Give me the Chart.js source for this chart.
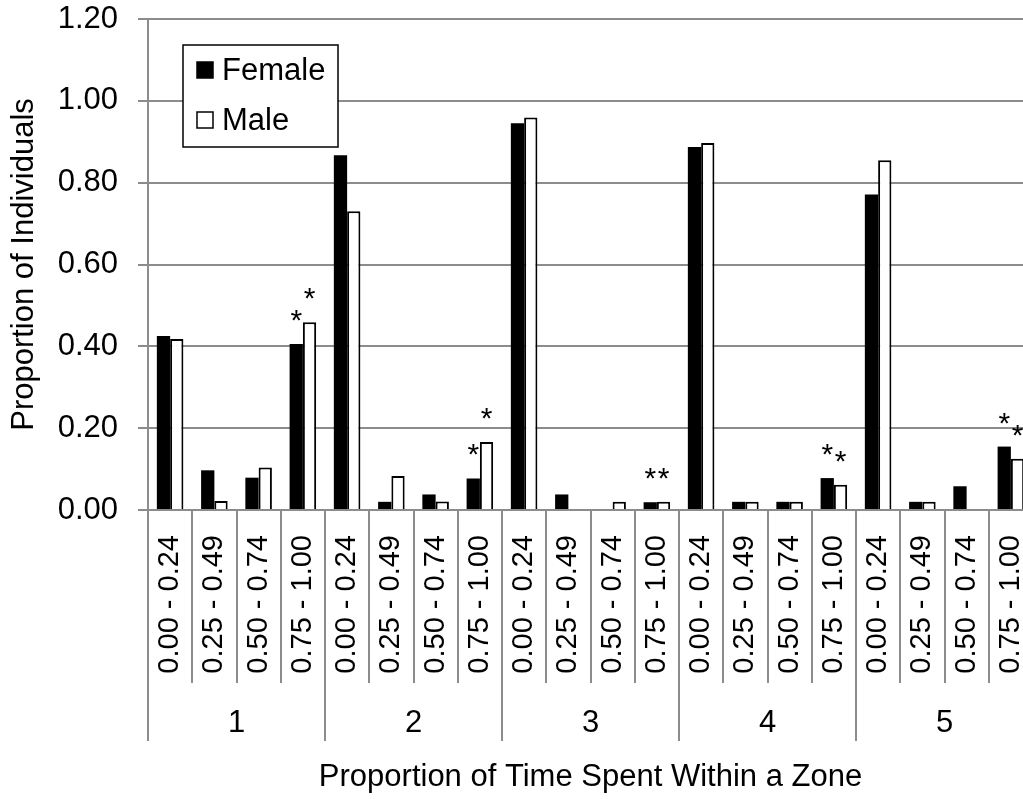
<!DOCTYPE html>
<html>
<head>
<meta charset="utf-8">
<script src="https://cdn.jsdelivr.net/npm/chart.js@4.4.1/dist/chart.umd.min.js"></script>
<style>
  html, body { margin: 0; padding: 0; background: #fff; overflow: hidden; }
  #wrap { width: 1040px; height: 799px; position: relative; }
</style>
</head>
<body>
<div id="wrap"><canvas id="chart"></canvas></div>
<script>
const rangeLabels = ["0.00 - 0.24", "0.25 - 0.49", "0.50 - 0.74", "0.75 - 1.00"];
const zoneLabels = ["1", "2", "3", "4", "5"];
const female = [0.425, 0.097, 0.079, 0.406, 0.867, 0.020, 0.038, 0.077, 0.945, 0.038, 0, 0.019, 0.887, 0.020, 0.020, 0.078, 0.771, 0.020, 0.058, 0.155];
const male = [0.418, 0.022, 0.104, 0.459, 0.730, 0.083, 0.021, 0.166, 0.959, 0, 0.020, 0.020, 0.897, 0.020, 0.020, 0.062, 0.855, 0.020, 0, 0.125];
const femaleStars = [0, 0, 0, 1, 0, 0, 0, 1, 0, 0, 0, 1, 0, 0, 0, 1, 0, 0, 0, 1];
const maleStars = [0, 0, 0, 1, 0, 0, 0, 1, 0, 0, 0, 1, 0, 0, 0, 1, 0, 0, 0, 1];

const labels = [];
zoneLabels.forEach(() => rangeLabels.forEach(r => labels.push(r)));

const FONT = "'Liberation Sans', Arial, sans-serif";
const GRID = "#8c8c8c";
Chart.defaults.font.family = FONT;
Chart.defaults.color = "#000";

const extras = {
    id: "extras",
    afterDatasetsDraw(chart) {
        const ctx = chart.ctx;
        const x = chart.scales.x;
        const area = chart.chartArea;
        ctx.save();
        // asterisks above bars
        ctx.font = "30px " + FONT;
        ctx.fillStyle = "#000";
        ctx.textAlign = "center";
        ctx.textBaseline = "alphabetic";
        [femaleStars, maleStars].forEach((stars, d) => {
            const meta = chart.getDatasetMeta(d);
            stars.forEach((s, i) => {
                if (s) ctx.fillText("*", meta.data[i].x, meta.data[i].y - 14);
            });
        });
        // category separators and zone labels
        const step = x.getPixelForValue(1) - x.getPixelForValue(0);
        ctx.strokeStyle = GRID;
        ctx.lineWidth = 2;
        for (let i = 0; i <= labels.length; i++) {
            const px = Math.round(x.getPixelForValue(i) - step / 2);
            const end = i % rangeLabels.length === 0 ? 741 : 683;
            ctx.beginPath();
            ctx.moveTo(px, area.bottom);
            ctx.lineTo(px, end);
            ctx.stroke();
        }
        ctx.font = "31px " + FONT;
        ctx.textBaseline = "middle";
        zoneLabels.forEach((z, g) => {
            const a = x.getPixelForValue(g * 4), b = x.getPixelForValue(g * 4 + 3);
            ctx.fillText(z, (a + b) / 2, 723);
        });
        // legend box
        ctx.fillStyle = "#fff";
        ctx.fillRect(183, 45, 155, 102);
        ctx.strokeStyle = "#000";
        ctx.lineWidth = 1.5;
        ctx.strokeRect(183, 45, 155, 102);
        ctx.font = "31px " + FONT;
        ctx.textAlign = "left";
        chart.data.datasets.forEach((ds, d) => {
            const cy = 70 + d * 50;
            ctx.fillStyle = ds.backgroundColor;
            ctx.fillRect(197, cy - 8, 16, 16);
            ctx.strokeStyle = "#000";
            ctx.lineWidth = 1.5;
            ctx.strokeRect(197, cy - 8, 16, 16);
            ctx.fillStyle = "#000";
            ctx.fillText(ds.label, 222, cy + 1);
        });
        ctx.restore();
    }
};

new Chart(document.getElementById("chart"), {
    type: "bar",
    data: {
        labels: labels,
        datasets: [
            { label: "Female", data: female, backgroundColor: "#000", borderWidth: 0 },
            { label: "Male", data: male, backgroundColor: "#fff", borderColor: "#000", borderWidth: 2 }
        ]
    },
    options: {
        responsive: true,
        maintainAspectRatio: false,
        animation: false,
        categoryPercentage: 0.6,
        barPercentage: 1,
        layout: { padding: { top: 0, right: 7, left: 0, bottom: 0 } },
        plugins: { legend: { display: false }, tooltip: { enabled: false } },
        scales: {
            x: {
                grid: { display: false },
                border: { display: true, color: GRID, width: 2 },
                ticks: {
                    autoSkip: false, minRotation: 90, maxRotation: 90,
                    padding: 17, font: { size: 29 }, color: "#000"
                },
                title: {
                    display: true, text: "Proportion of Time Spent Within a Zone",
                    font: { size: 31 }, color: "#000", padding: { top: 0, bottom: 3 }
                },
                afterFit(scale) {
                    scale.height = 289;
                    scale.paddingLeft = 0;
                    scale.paddingRight = 0;
                }
            },
            y: {
                min: 0, max: 1.2,
                ticks: {
                    stepSize: 0.2, padding: 20, font: { size: 31 }, color: "#000",
                    callback: v => v.toFixed(2)
                },
                grid: { color: GRID, lineWidth: 2, tickLength: 10 },
                border: { display: true, color: GRID, width: 2 },
                title: {
                    display: true, text: "Proportion of Individuals",
                    font: { size: 31 }, color: "#000", padding: { top: 6, bottom: 0 }
                },
                afterFit(scale) {
                    scale.width = 148;
                    scale.paddingTop = 19;
                    scale.paddingBottom = 0;
                }
            }
        }
    },
    plugins: [extras]
});
</script>
</body>
</html>
